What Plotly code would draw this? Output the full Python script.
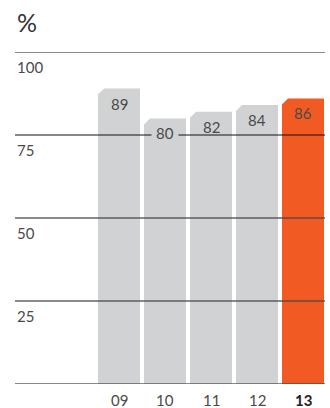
import plotly.graph_objects as go

# Data
years = ["09", "10", "11", "12", "13"]
values = [89, 80, 82, 84, 86]
bar_colors = ["#d1d2d4", "#d1d2d4", "#d1d2d4", "#d1d2d4", "#f15a22"]
y_ticks = [25, 50, 75, 100]

W, H = 330, 408
ML, MR, MT, MB = 15, 5, 52, 24
plot_w = W - ML - MR
plot_h = H - MT - MB
px_per_unit = plot_h / 100.0

# x scale: bar centres 46 px apart, first centre 104 px from plot left
pitch_px = 46.0
x0 = -(104.0 / pitch_px)
x1 = x0 + plot_w / pitch_px
bar_w = 42.0 / pitch_px
cut_x = 6.0 / pitch_px
cut_y = 6.0 / px_per_unit
label_drop = 15  # px below bar top

fig = go.Figure()

# Bars with a chamfered top-left corner
for i, (v, c) in enumerate(zip(values, bar_colors)):
    l, r = i - bar_w / 2, i + bar_w / 2
    fig.add_trace(go.Scatter(
        x=[l, l, l + cut_x, r, r, l],
        y=[0, v - cut_y, v, v, 0, 0],
        mode="lines", fill="toself", fillcolor=c,
        line=dict(width=0, color=c), hoverinfo="skip", showlegend=False,
    ))

# Horizontal reference lines drawn over the bars
for t in [0, 25, 50, 100]:
    fig.add_shape(type="line", xref="paper", x0=0, x1=1, y0=t, y1=t,
                  line=dict(color="rgba(70,70,70,0.85)", width=1.6), layer="above")
fig.add_shape(type="line", xref="paper", x0=0, x1=1, y0=75, y1=75,
              line=dict(color="#111111", width=1.1), layer="above")

# Value labels inside the bars; a label sitting on the 75 line masks it
for i, (v, c) in enumerate(zip(values, bar_colors)):
    centre_units = v - label_drop / px_per_unit
    on_line = abs(centre_units - 75) * px_per_unit < 6
    fig.add_annotation(x=i, y=v, yshift=-label_drop, text=str(v), showarrow=False,
                       font=dict(family="Lato", size=15, color="#4a4a4a"),
                       bgcolor=c if on_line else "rgba(0,0,0,0)",
                       borderpad=4 if on_line else 0,
                       xanchor="center", yanchor="middle")

# y tick labels under each line
for t in y_ticks:
    fig.add_annotation(xref="paper", x=0, y=t, yshift=-15, text=str(t),
                       showarrow=False, xanchor="left", yanchor="middle",
                       font=dict(family="Lato", size=15, color="#4a4a4a"))

# Unit label
fig.add_annotation(xref="paper", yref="paper", x=0, y=1, yshift=30,
                   text="%", showarrow=False, xanchor="left", yanchor="middle",
                   font=dict(family="Lato", size=25, color="#333333"))

# Year labels
for i, yr in enumerate(years):
    last = i == len(years) - 1
    fig.add_annotation(x=i, yref="paper", y=0, yshift=-16,
                       text=f"<b>{yr}</b>" if last else yr, showarrow=False,
                       xanchor="center", yanchor="middle",
                       font=dict(family="Lato", size=15,
                                 color="#222222" if last else "#4a4a4a"))

fig.update_layout(
    width=W, height=H,
    margin=dict(l=ML, r=MR, t=MT, b=MB),
    paper_bgcolor="white", plot_bgcolor="white",
    xaxis=dict(range=[x0, x1], visible=False, fixedrange=True),
    yaxis=dict(range=[0, 100], visible=False, fixedrange=True),
    showlegend=False,
)

fig.write_html("out.html")
